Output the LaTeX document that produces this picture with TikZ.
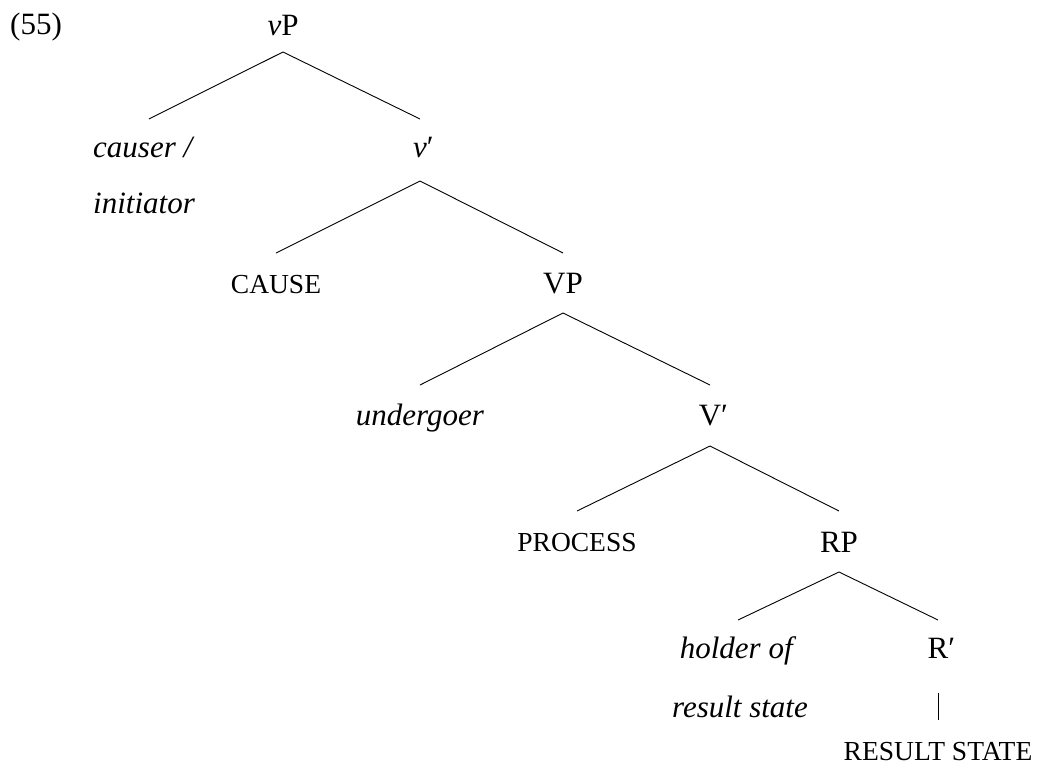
\documentclass[tikz,border=0pt]{standalone}
\usepackage{fontspec}
\setmainfont{Liberation Serif}
\newcommand{\smcp}[1]{{\fontsize{27.5}{31}\selectfont #1}}
\begin{document}
\begin{tikzpicture}[x=1pt,y=-1pt,
  lbl/.style={anchor=base,inner sep=0pt,font=\fontsize{31}{37}\selectfont},
  branch/.style={line width=0.9pt}]
\useasboundingbox (0,0) rectangle (1037,764);

% example number
\node[lbl,anchor=base west] (ex) at (10,34) {(55)};

% nodes of the tree, placed on their baselines
\node[lbl] (vP) at (283,35) {\textit{v}P};
\node[lbl,anchor=base west] (causer) at (93,157) {\textit{causer /}};
\node[lbl,anchor=base west] (initiator) at (93,213) {\textit{initiator}};
\node[lbl] (vbar) at (420,157) {\textit{v}\rlap{′}};
\node[lbl] (cause) at (276,293) {\smcp{CAUSE}};
\node[lbl] (VP) at (563,293) {VP};
\node[lbl] (undergoer) at (420,425) {\textit{undergoer}};
\node[lbl] (Vbar) at (710,425) {V\rlap{′}};
\node[lbl] (process) at (577,551) {\smcp{PROCESS}};
\node[lbl] (RP) at (839,552) {RP};
\node[lbl] (holder) at (738,658) {\textit{holder of}};
\node[lbl] (resstate) at (740,717) {\textit{result state}};
\node[lbl] (Rbar) at (938,658) {R\rlap{′}};
\node[lbl] (RESSTATE) at (938,760) {\smcp{RESULT STATE}};

% branches
\draw[branch] ([xshift=5pt,yshift=38pt]causer.base) -- ([yshift=-17pt]vP.base)
  -- ([yshift=38pt]vbar.base);
\draw[branch] ([yshift=40pt]cause.base) -- ([yshift=-24pt]vbar.base)
  -- ([yshift=40pt]VP.base);
\draw[branch] ([yshift=40pt]undergoer.base) -- ([yshift=-20pt]VP.base)
  -- ([yshift=40pt]Vbar.base);
\draw[branch] ([yshift=40pt]process.base) -- ([yshift=-21pt]Vbar.base)
  -- ([yshift=41pt]RP.base);
\draw[branch] ([yshift=38pt]holder.base) -- ([yshift=-20pt]RP.base)
  -- ([yshift=38pt]Rbar.base);
\draw[branch] ([yshift=-35pt]Rbar.base) -- ([yshift=40pt]RESSTATE.base);
\end{tikzpicture}
\end{document}
